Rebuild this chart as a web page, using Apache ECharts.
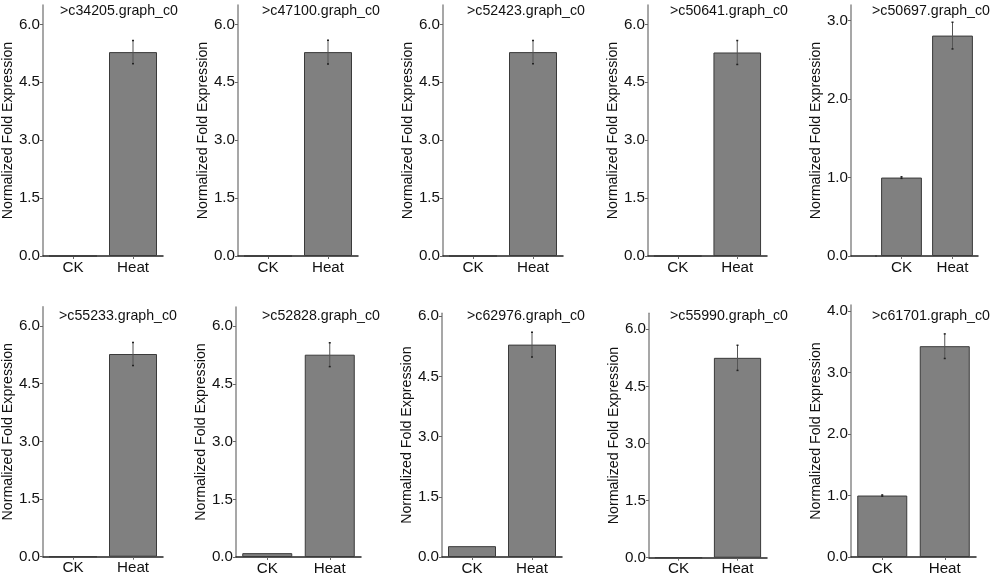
<!DOCTYPE html>
<html>
<head>
<meta charset="utf-8">
<script src="https://cdn.jsdelivr.net/npm/echarts@6/dist/echarts.min.js"></script>
<style>
  html, body { margin: 0; padding: 0; background: #fff; }
  #main { width: 993px; height: 579px; }
</style>
</head>
<body>
<div id="main"></div>
<script>
// data
const categories = ['CK', 'Heat'];
const geneNames = ['>c34205.graph_c0', '>c47100.graph_c0', '>c52423.graph_c0', '>c50641.graph_c0', '>c50697.graph_c0',
                   '>c55233.graph_c0', '>c52828.graph_c0', '>c62976.graph_c0', '>c55990.graph_c0', '>c61701.graph_c0'];
const ckMeans    = [0, 0, 0, 0, 1.0, 0, 0.1, 0.27, 0, 1.0];
const ckErrors   = [0, 0, 0, 0, 0.01, 0, 0, 0, 0, 0.01];
const heatMeans  = [5.28, 5.28, 5.28, 5.27, 2.81, 5.27, 5.26, 5.29, 5.25, 3.43];
const heatErrors = [0.30, 0.31, 0.30, 0.31, 0.17, 0.30, 0.31, 0.31, 0.33, 0.20];
const ticksSix   = [0, 1.5, 3, 4.5, 6];
const ticksThree = [0, 1, 2, 3];
const ticksFour  = [0, 1, 2, 3, 4];
const panelTicks = [ticksSix, ticksSix, ticksSix, ticksSix, ticksThree, ticksSix, ticksSix, ticksSix, ticksSix, ticksFour];
const axisMax    = [6.5, 6.5, 6.5, 6.5, 3.2, 6.5, 6.5, 6.07, 6.42, 4.1];

// layout of each small panel (plot area in px)
const layout = [
  { left: 43,  right: 163, top: 5,     bottom: 256,   title: 60,  yOffset: 0 },
  { left: 238, right: 358, top: 5,     bottom: 256,   title: 262, yOffset: 0 },
  { left: 443, right: 563, top: 5,     bottom: 256,   title: 467, yOffset: 0 },
  { left: 648, right: 767, top: 5,     bottom: 256,   title: 670, yOffset: 0 },
  { left: 876, right: 978, top: 5,     bottom: 256,   title: 872, yOffset: 25 },
  { left: 42,  right: 163, top: 306.7, bottom: 556.7, title: 59,  yOffset: 0 },
  { left: 236, right: 361, top: 307,   bottom: 557,   title: 262, yOffset: 0 },
  { left: 442, right: 562, top: 313.3, bottom: 557,   title: 467, yOffset: 0 },
  { left: 649, right: 767, top: 313.3, bottom: 557.7, title: 670, yOffset: 0 },
  { left: 851, right: 976, top: 305,   bottom: 557,   title: 872, yOffset: 0 }
];

const FONT = 'Liberation Sans, Arial, sans-serif';
const FS = 14.2;
const TICK_FS = 15.2;

var grid = [], xAxis = [], yAxis = [], series = [], title = [];

layout.forEach(function (p, i) {
  var gi = grid.length;
  grid.push({ left: p.left, top: p.top, width: p.right - p.left, height: p.bottom - p.top });
  title.push({
    text: geneNames[i], left: p.title, top: i < 5 ? 4 : 309, padding: 0,
    textStyle: { fontFamily: FONT, fontSize: FS, fontWeight: 'normal', color: '#111' }
  });
  xAxis.push({
    gridIndex: gi, type: 'category', data: categories,
    axisLine: { show: true, lineStyle: { color: '#222', width: 1.5 } },
    axisTick: { show: true, alignWithLabel: true, length: 3, lineStyle: { color: '#666' } },
    axisLabel: { color: '#111', fontSize: TICK_FS, fontFamily: FONT, margin: 4 }
  });
  yAxis.push({
    gridIndex: gi, type: 'value', min: 0, max: axisMax[i], offset: p.yOffset,
    name: 'Normalized Fold Expression', nameLocation: 'middle', nameGap: 28,
    nameTextStyle: { fontFamily: FONT, fontSize: FS, color: '#111' },
    splitLine: { show: false },
    axisLine: { show: true, lineStyle: { color: '#8a8a8a', width: 1.5 } },
    axisTick: { show: true, length: 3, customValues: panelTicks[i], lineStyle: { color: '#666' } },
    axisLabel: {
      color: '#111', fontSize: TICK_FS, fontFamily: FONT, margin: 3,
      customValues: panelTicks[i],
      formatter: function (v) { return v.toFixed(1); }
    }
  });
  series.push({
    type: 'bar', xAxisIndex: gi, yAxisIndex: gi,
    data: [ckMeans[i], heatMeans[i]],
    barWidth: '80%',
    itemStyle: { color: '#808080', borderColor: '#3a3a3a', borderWidth: 1 },
    silent: true
  });
  var errData = [];
  if (ckErrors[i] > 0) errData.push([0, ckMeans[i], ckErrors[i]]);
  if (heatErrors[i] > 0) errData.push([1, heatMeans[i], heatErrors[i]]);
  series.push({
    type: 'custom', xAxisIndex: gi, yAxisIndex: gi, z: 5, silent: true,
    data: errData,
    renderItem: function (params, api) {
      var x = api.value(0), m = api.value(1), e = api.value(2);
      var hi = api.coord([x, m + e]);
      var lo = api.coord([x, m - e]);
      var st = { stroke: '#555', lineWidth: 1 };
      return {
        type: 'group',
        children: [
          { type: 'line', shape: { x1: hi[0], y1: hi[1], x2: lo[0], y2: lo[1] }, style: st },
          { type: 'line', shape: { x1: hi[0] - 1, y1: hi[1], x2: hi[0] + 1, y2: hi[1] }, style: { stroke: '#222', lineWidth: 1.5 } },
          { type: 'line', shape: { x1: lo[0] - 1, y1: lo[1], x2: lo[0] + 1, y2: lo[1] }, style: { stroke: '#222', lineWidth: 1.5 } }
        ]
      };
    }
  });
  // panel with the y axis set apart: carry the x axis line across the gap
  if (p.yOffset > 0) {
    var gj = grid.length;
    grid.push({ left: p.left - p.yOffset, top: p.top, width: p.yOffset, height: p.bottom - p.top });
    xAxis.push({
      gridIndex: gj, type: 'category', data: [''],
      axisLine: { show: true, lineStyle: { color: '#222', width: 1.5 } },
      axisTick: { show: false }, axisLabel: { show: false }
    });
    yAxis.push({ gridIndex: gj, type: 'value', min: 0, max: 1, show: false });
  }
});

var chart = echarts.init(document.getElementById('main'), null, { renderer: 'canvas' });
chart.setOption({
  animation: false,
  backgroundColor: '#fff',
  title: title,
  grid: grid,
  xAxis: xAxis,
  yAxis: yAxis,
  series: series
});
</script>
</body>
</html>
